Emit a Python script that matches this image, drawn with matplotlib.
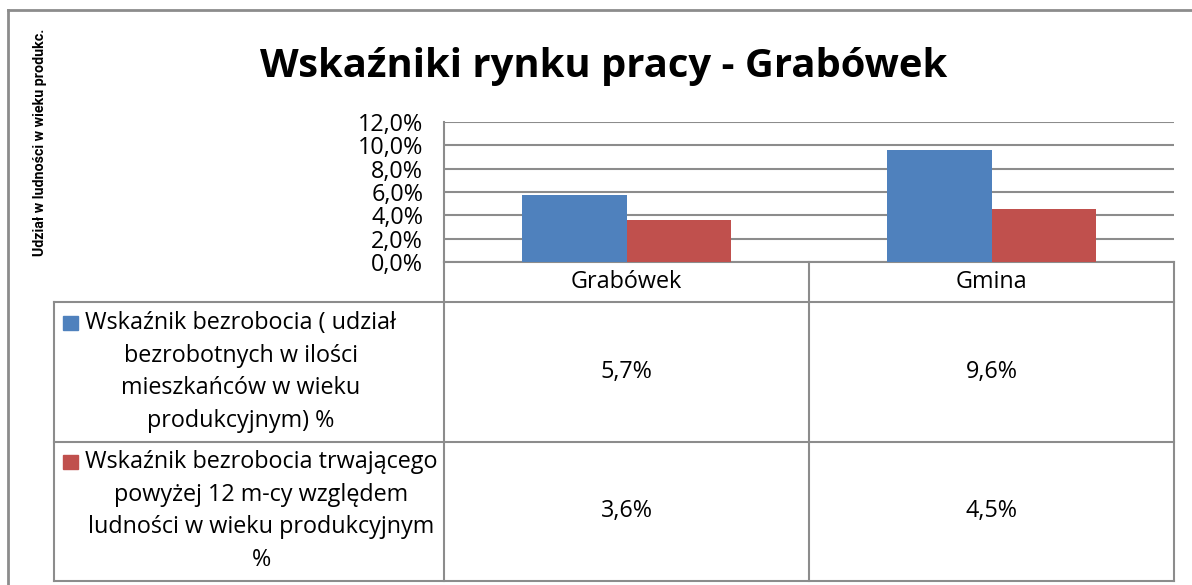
import matplotlib.pyplot as plt
from matplotlib.patches import Rectangle
import matplotlib.transforms as mtransforms

categories = ["Grabówek", "Gmina"]
bezrobocie = [5.7, 9.6]          # %
bezrobocie_dlugie = [3.6, 4.5]   # %
series_labels = [
    "Wskaźnik bezrobocia ( udział\nbezrobotnych w ilości\nmieszkańców w wieku\nprodukcyjnym) %",
    "Wskaźnik bezrobocia trwającego\npowyżej 12 m-cy względem\nludności w wieku produkcyjnym\n%",
]
y_ticks = [0, 2, 4, 6, 8, 10, 12]
title = "Wskaźniki rynku pracy - Grabówek"
y_label = "Udział w ludności w wieku produkc."

colors = ["#4F81BD", "#C0504D"]
grid_c = "#8C8C8C"
W, H = 1192, 585
fs = 16.8
plt.rcParams['font.family'] = ['Open Sans', 'DejaVu Sans']

fig = plt.figure(figsize=(W / 100, H / 100), dpi=100)

# overlay in pixel coordinates for frame and table lines
ov = fig.add_axes([0, 0, 1, 1])
ov.set_xlim(0, W)
ov.set_ylim(H, 0)
ov.axis("off")

# plot area
x0, x1, ytop, ybot = 444, 1174, 122, 262
ax = fig.add_axes([x0 / W, (H - ybot) / H, (x1 - x0) / W, (ybot - ytop) / H])
ax.set_xlim(-0.5, 1.5)
ax.set_ylim(0, 12)
bw = 0.285
xs = range(len(categories))
ax.bar([x - bw / 2 for x in xs], bezrobocie, bw, color=colors[0], zorder=3)
ax.bar([x + bw / 2 for x in xs], bezrobocie_dlugie, bw, color=colors[1], zorder=3)
ax.set_yticks(y_ticks)
ax.set_yticklabels([f"{v:.1f}%".replace(".", ",") for v in y_ticks], fontsize=fs)
ax.set_xticks([])
ax.tick_params(axis="y", length=0, pad=15)
ax.yaxis.grid(True, color=grid_c, linewidth=1.5, zorder=0)
for s in ["top", "right", "bottom"]:
    ax.spines[s].set_visible(False)
ax.spines["left"].set_color(grid_c)
ax.spines["left"].set_linewidth(1.5)
ax.set_facecolor("none")

# table lines
lw = 1.5
ov.plot([x0, x1], [ybot, ybot], color=grid_c, lw=lw)
for y in [302, 442, 581]:
    ov.plot([54, x1], [y, y], color=grid_c, lw=lw)
ov.plot([54, 54], [302, 581], color=grid_c, lw=lw)
ov.plot([x0, x0], [ybot, 581], color=grid_c, lw=lw)
ov.plot([809, 809], [ybot, 581], color=grid_c, lw=lw)
ov.plot([x1, x1], [ybot, 581], color=grid_c, lw=lw)

# outer frame (cut at right and bottom)
ov.plot([8, W], [10, 10], color=grid_c, lw=2)
ov.plot([8, 8], [10, H], color=grid_c, lw=2)

# table texts: x from bar axes data coords, y in figure pixels
tr = mtransforms.blended_transform_factory(ax.transData, ov.transData)
for i, c in enumerate(categories):
    ov.text(i, 282, c, transform=tr, ha="center", va="center", fontsize=fs)
rows_y = [372, 511]
for r, (vals, lab, col) in enumerate(zip([bezrobocie, bezrobocie_dlugie], series_labels, colors)):
    for i, v in enumerate(vals):
        ov.text(i, rows_y[r], f"{v:.1f}%".replace(".", ","), transform=tr,
                ha="center", va="center", fontsize=fs)
    ov.text(85, rows_y[r], lab, ha="left", va="center", multialignment="center",
            fontsize=fs, linespacing=1.48)
    n = lab.count("\n") + 1
    ytop_txt = rows_y[r] - (n - 1) * 32.7 / 2
    ov.add_patch(Rectangle((63, ytop_txt - 7), 15, 14, color=col))

ov.text(604, 66, title, ha="center", va="center", fontsize=28.8, fontweight="bold")
ov.text(40, 142, y_label, ha="center", va="center", rotation=90, fontsize=10.3,
        fontweight="bold", family=["Roboto", "DejaVu Sans"])

fig.savefig("out.png", dpi=100)
